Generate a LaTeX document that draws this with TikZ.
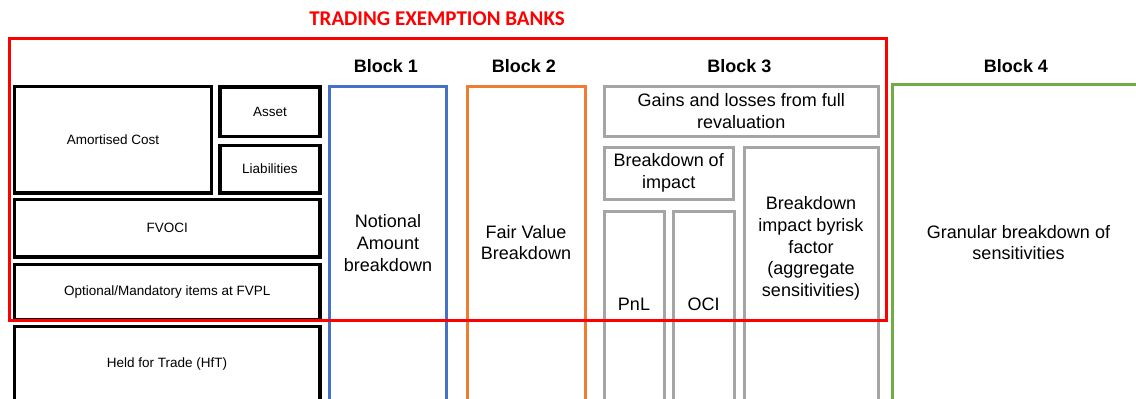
\documentclass[tikz,border=0pt]{standalone}
\usepackage{fontspec}
\setmainfont{Liberation Sans}
\newfontfamily\calibri{Carlito}
\definecolor{tred}{HTML}{FF0000}
\definecolor{tblue}{HTML}{4472C4}
\definecolor{torange}{HTML}{ED7D31}
\definecolor{tgray}{HTML}{A5A5A5}
\definecolor{tgreen}{HTML}{70AD47}
\begin{document}
\begin{tikzpicture}[x=1pt,y=-1pt,
  every node/.style={inner sep=0pt,outer sep=0pt},
  bbox/.style={draw=black,line width=3.3pt,rectangle,font=\fontsize{13.5}{15}\selectfont},
  gbox/.style={draw=tgray,line width=3pt,rectangle,align=center,font=\fontsize{18}{21.7}\selectfont},
  cbox/.style={line width=3pt,rectangle},
  big/.style={align=center,font=\fontsize{18}{21.7}\selectfont},
  small/.style={font=\fontsize{13.5}{15}\selectfont},
  blk/.style={font=\bfseries\fontsize{18}{21}\selectfont}]
\useasboundingbox (0,0) rectangle (1136,399);
\clip (0,0) rectangle (1136,399);
% black boxes
\node[bbox,minimum width=196.6pt,minimum height=106.8pt] (ac) at (113,139.6) {Amortised Cost};
\node[bbox,minimum width=100pt,minimum height=49.5pt] (asset) at (270,111.75) {Asset};
\node[bbox,minimum width=100pt,minimum height=47.7pt] (liab) at (270,169.15) {Liabilities};
\node[bbox,minimum width=305.3pt,minimum height=57.5pt] (fvoci) at (167.35,228.25) {FVOCI};
\node[bbox,minimum width=305.3pt,minimum height=55.3pt] (fvpl) at (167.35,291.85) {Optional/Mandatory items at FVPL};
\node[bbox,minimum width=305.3pt,minimum height=93.7pt] (hft) at (167.35,373.15) {};
\node[small] (hftl) at (167,364) {Held for Trade (HfT)};
% block 1
\node[cbox,draw=tblue,minimum width=117pt,minimum height=334pt] (b1) at (388,253) {};
\node[big] (b1l) at (388,243) {Notional\\Amount\\breakdown};
% block 2
\node[cbox,draw=torange,minimum width=118pt,minimum height=334pt] (b2) at (526,253) {};
\node[big] (b2l) at (526,242.5) {Fair Value\\Breakdown};
% block 3
\node[gbox,minimum width=274.5pt,minimum height=50pt] (gains) at (741.25,111) {Gains and losses from full\\revaluation};
\node[gbox,minimum width=129.5pt,minimum height=52pt] (boi) at (668.75,173) {Breakdown of\\impact};
\node[gbox,minimum width=134.5pt,minimum height=273pt] (risk) at (811.25,283.5) {};
\node[big] (riskl) at (811,248.5) {Breakdown\\impact byrisk\\factor\\(aggregate\\sensitivities)};
\node[gbox,minimum width=60pt,minimum height=208.5pt] (pnl) at (634,315.75) {};
\node[big] (pnll) at (634,304) {PnL};
\node[gbox,minimum width=60.5pt,minimum height=208.5pt] (oci) at (703.75,315.75) {};
\node[big] (ocil) at (703.5,304) {OCI};
% block 4
\node[cbox,draw=tgreen,minimum width=267.3pt,minimum height=336pt] (b4) at (1026.35,252) {};
\node[big] (b4l) at (1018.5,242.5) {Granular breakdown of\\sensitivities};
% block titles
\node[blk] (t1) at (386,66.5) {Block 1};
\node[blk] (t2) at (524,66.5) {Block 2};
\node[blk] (t3) at (739.5,66.5) {Block 3};
\node[blk] (t4) at (1016,66.5) {Block 4};
% trading exemption frame
\node[cbox,draw=tred,minimum width=876.5pt,minimum height=282pt] (tr) at (447.75,179) {};
\node[font=\calibri\bfseries\fontsize{21}{24}\selectfont,text=tred] (trl) at (437,19) {TRADING EXEMPTION BANKS};
\end{tikzpicture}
\end{document}
